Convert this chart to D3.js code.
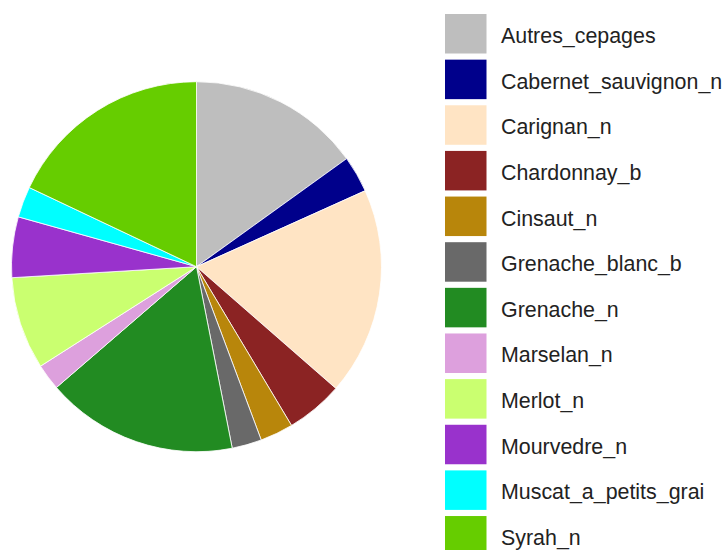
<!DOCTYPE html>
<html>
<head>
<meta charset="utf-8">
<script src="https://cdn.jsdelivr.net/npm/d3@7"></script>
<style>
  html, body { margin: 0; padding: 0; background: #fff; }
  svg { display: block; }
</style>
</head>
<body>
<svg id="chart" width="726" height="550"></svg>
<script>
const categories = ["Autres_cepages","Cabernet_sauvignon_n","Carignan_n","Chardonnay_b","Cinsaut_n","Grenache_blanc_b","Grenache_n","Marselan_n","Merlot_n","Mourvedre_n","Muscat_a_petits_grai","Syrah_n"];
const values = [15.1, 3.2, 18.2, 5.0, 2.9, 2.6, 16.8, 2.3, 8.1, 5.3, 2.7, 18.0];
const colors = ["#bebebe","#00008b","#ffe4c4","#8b2323","#b8860b","#696969","#228b22","#dda0dd","#caff70","#9932cc","#00ffff","#66cd00"];

const svg = d3.select("#chart");
const cx = 196.5, cy = 266.7, r = 185;

const pie = d3.pie().sort(null).value(d => d.v).startAngle(0).endAngle(2 * Math.PI);
const data = categories.map((c, i) => ({ c, v: values[i], col: colors[i] }));
const arc = d3.arc().innerRadius(0).outerRadius(r);

svg.append("g")
  .attr("transform", `translate(${cx},${cy})`)
  .selectAll("path")
  .data(pie(data))
  .join("path")
  .attr("d", arc)
  .attr("fill", d => d.data.col)
  .attr("stroke", "#fff")
  .attr("stroke-width", 0.8);

const y = d3.scaleBand().domain(categories).range([14, 14 + 45.64 * 12]).paddingInner(0).paddingOuter(0);
const leg = svg.append("g");
const items = leg.selectAll("g").data(data).join("g")
  .attr("transform", d => `translate(445,${y(d.c)})`);
items.append("rect")
  .attr("width", 41.5).attr("height", 39.5)
  .attr("fill", d => d.col);
items.append("text")
  .attr("x", 56).attr("y", 29)
  .attr("font-family", "Liberation Sans, Arial, sans-serif")
  .attr("font-size", 21.4)
  .attr("fill", "#222")
  .text(d => d.c);
</script>
</body>
</html>
